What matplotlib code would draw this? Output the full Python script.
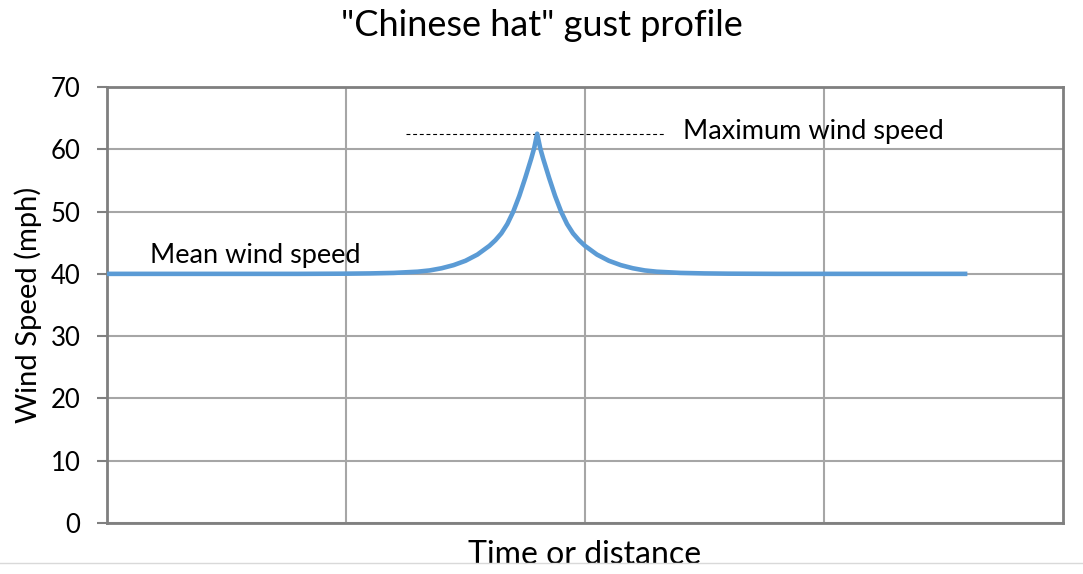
import matplotlib.pyplot as plt
from matplotlib.lines import Line2D

plt.rcParams['font.family'] = ['Lato', 'DejaVu Sans']

# gust profile (x in arbitrary time units, y in mph)
t = [0, 0.8, 1.0, 1.1, 1.2, 1.3, 1.35, 1.4, 1.45, 1.5, 1.55, 1.6, 1.625, 1.65, 1.675,
     1.7, 1.725, 1.75, 1.775, 1.7875, 1.8,
     1.8125, 1.825, 1.85, 1.875, 1.9, 1.925, 1.95, 1.975, 2.0, 2.05, 2.1, 2.15,
     2.2, 2.25, 2.3, 2.4, 2.5, 2.6, 2.8, 3.6]
speed = [40, 40, 40.03, 40.07, 40.15, 40.35, 40.55, 40.9, 41.4, 42.1, 43.1, 44.5, 45.4, 46.5, 48.0,
         50.0, 52.5, 55.4, 58.5, 60.2, 62.5,
         60.2, 58.5, 55.4, 52.5, 50.0, 48.0, 46.5, 45.4, 44.5, 43.1, 42.1, 41.4,
         40.9, 40.55, 40.35, 40.15, 40.07, 40.03, 40, 40]
max_speed = 62.5
yticks = [0, 10, 20, 30, 40, 50, 60, 70]

fig = plt.figure(figsize=(10.83, 5.74), dpi=100)
ax = fig.add_axes([0.0988, 0.0889, 0.8827, 0.7595])

ax.plot(t, speed, color='#5b9bd5', lw=3.3, solid_capstyle='butt', solid_joinstyle='round', zorder=3)
ax.plot([1.25, 2.33], [max_speed, max_speed], color='black', lw=0.8, ls=(0, (3.5, 2.5)))
ax.text(2.41, max_speed + 0.3, 'Maximum wind speed', fontsize=19.5, va='center')
ax.text(0.18, 42.9, 'Mean wind speed', fontsize=19.5, va='center')

ax.set_xlim(0, 4)
ax.set_ylim(0, 70)
ax.set_xticks([1, 2, 3])
ax.set_yticks(yticks)
ax.tick_params(axis='x', length=0, labelbottom=False)
ax.tick_params(axis='y', length=7, width=1.5, color='#808080', labelsize=18.5, pad=12)
ax.grid(True, color='#a6a6a6', lw=1.5)
ax.set_axisbelow(True)
for s in ax.spines.values():
    s.set_color('#7f7f7f')
    s.set_linewidth(2)

ax.set_ylabel('Wind Speed (mph)', fontsize=21, labelpad=6)
ax.set_xlabel('Time or distance', fontsize=23, labelpad=12)
fig.suptitle('"Chinese hat" gust profile', fontsize=26, y=0.985)

fig.add_artist(Line2D([0, 1], [0.019, 0.019], color='#d9d9d9', lw=1, transform=fig.transFigure))

fig.savefig('out.png', dpi=100)
